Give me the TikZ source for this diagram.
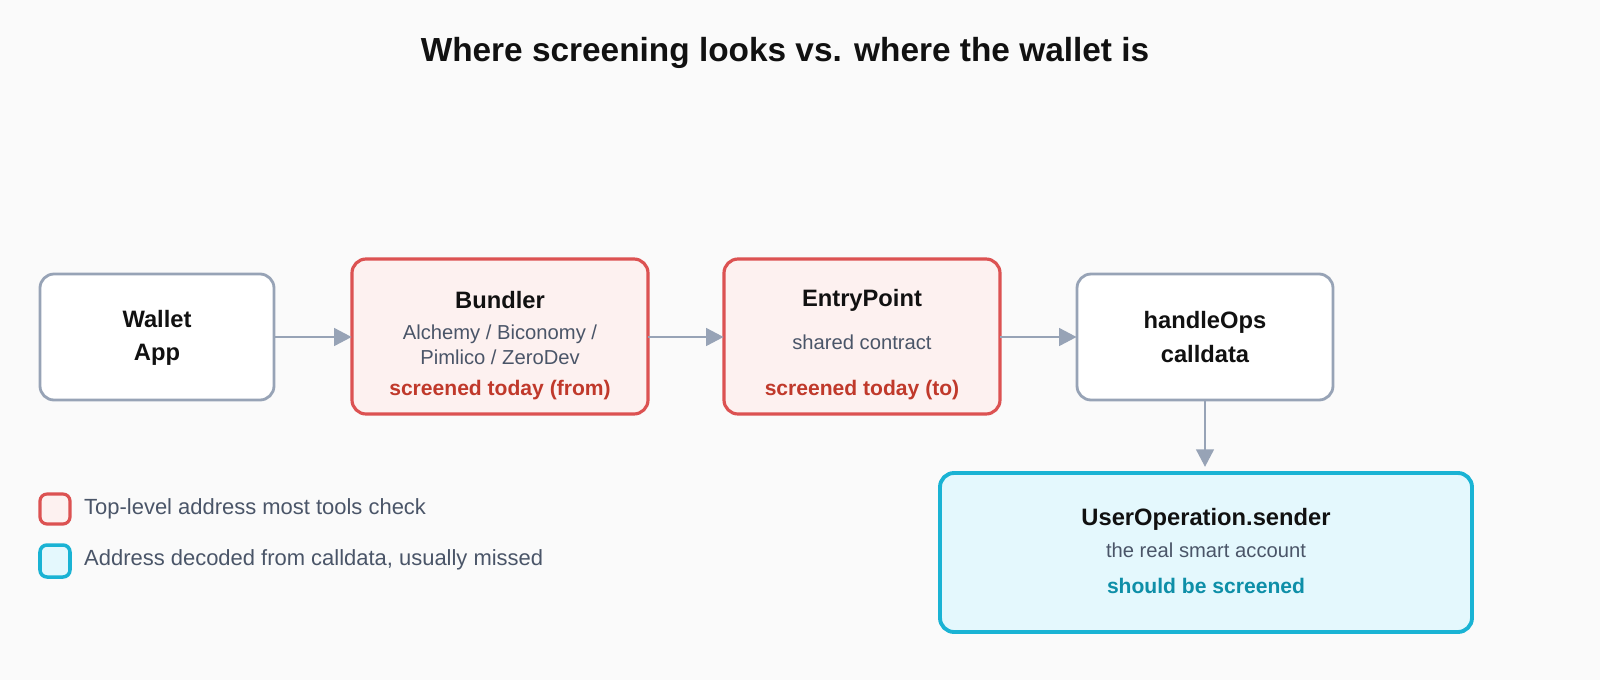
\documentclass[tikz,border=0pt]{standalone}
\usepackage{fontspec}
\setmainfont{Liberation Sans}
\usetikzlibrary{arrows.meta}
\definecolor{bg}{HTML}{FAFAFA}
\definecolor{gb}{HTML}{97A3B6}
\definecolor{rb}{HTML}{DC5252}
\definecolor{rf}{HTML}{FDF1F0}
\definecolor{rt}{HTML}{C0392B}
\definecolor{cb}{HTML}{1AB3D4}
\definecolor{cf}{HTML}{E4F8FD}
\definecolor{ct}{HTML}{0E8FA8}
\definecolor{st}{HTML}{4A5568}
\definecolor{tt}{HTML}{111111}
\begin{document}
\begin{tikzpicture}[x=0.02cm,y=-0.02cm,
 box/.style={draw=gb,line width=1.6pt,fill=white,rounded corners=8pt},
 rbox/.style={draw=rb,line width=1.8pt,fill=rf,rounded corners=8pt},
 cbox/.style={draw=cb,line width=2.2pt,fill=cf,rounded corners=8pt},
 ttl/.style={font=\fontsize{13.5}{19}\selectfont\bfseries,text=tt},
 sub/.style={font=\fontsize{11.5}{14.5}\selectfont,text=st},
 warn/.style={font=\fontsize{12}{14}\selectfont\bfseries},
 arr/.style={draw=gb,line width=1.6pt,-{Triangle[length=10pt,width=10pt]}},
 leg/.style={font=\fontsize{12.5}{15}\selectfont,text=st,anchor=west}]
\fill[bg] (0,0) rectangle (1600,680);
\node[font=\fontsize{19}{23}\selectfont\bfseries,text=tt] (title) at (785,53) {Where screening looks vs. where the wallet is};
\draw[box] (40,274) rectangle (274,400);
\node (wa) at (157,337) [minimum width=234*0.02cm,minimum height=126*0.02cm] {};
\node[ttl,align=center] (wat) at (157,338) {Wallet\\App};
\draw[rbox] (352,259) rectangle (648,414);
\node (bu) at (500,337) [minimum width=296*0.02cm,minimum height=126*0.02cm] {};
\node[ttl] (but) at (500,300) {Bundler};
\node[sub,align=center] (bus) at (500,345) {Alchemy / Biconomy /\\Pimlico / ZeroDev};
\node[warn,text=rt] (buw) at (500,390) {screened today (from)};
\draw[rbox] (724,259) rectangle (1000,414);
\node (ep) at (862,337) [minimum width=276*0.02cm,minimum height=126*0.02cm] {};
\node[ttl] (ept) at (862,300) {EntryPoint};
\node[sub] (eps) at (862,342) {shared contract};
\node[warn,text=rt] (epw) at (862,390) {screened today (to)};
\draw[box] (1077,274) rectangle (1333,400);
\node (ho) at (1205,337) [minimum width=256*0.02cm,minimum height=126*0.02cm] {};
\node[ttl,align=center] (hot) at (1205,337) {handleOps\\calldata};
\draw[cbox] (940,473) rectangle (1472,632);
\node (uo) at (1205,552) [minimum width=532*0.02cm,minimum height=159*0.02cm] {};
\node[ttl] (uot) at (1206,519) {UserOperation.sender};
\node[sub] (uos) at (1206,550) {the real smart account};
\node[warn,text=ct] (uow) at (1206,586) {should be screened};
\draw[arr] (wa.east) -- (bu.west);
\draw[arr] (bu.east) -- (ep.west);
\draw[arr] (ep.east) -- (ho.west);
\draw[arr] (ho.south) -- ([yshift=3pt]uo.north);
\draw[draw=rb,fill=rf,line width=1.8pt,rounded corners=4pt] (40,494) rectangle (70,524);
\node[leg] (l1) at (78,509) {Top-level address most tools check};
\draw[draw=cb,fill=cf,line width=2pt,rounded corners=4pt] (40,545) rectangle (70,577);
\node[leg] (l2) at (78,560) {Address decoded from calldata, usually missed};
\end{tikzpicture}
\end{document}
